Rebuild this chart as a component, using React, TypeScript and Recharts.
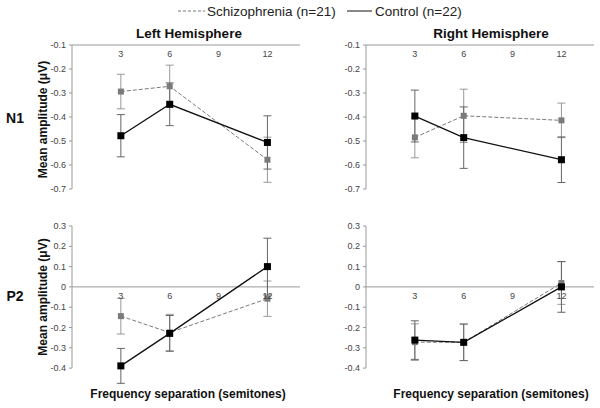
import { LineChart, Line, XAxis, YAxis, ErrorBar, ReferenceLine, ReferenceDot } from "recharts";

const freqs = [3, 6, 12];
const xTicks = [3, 6, 9, 12];
const n1Ticks = [-0.7, -0.6, -0.5, -0.4, -0.3, -0.2, -0.1];
const p2Ticks = [-0.4, -0.3, -0.2, -0.1, 0, 0.1, 0.2, 0.3];

// N1, left hemisphere
const n1LeftSchiz = [-0.294, -0.272, -0.578];
const n1LeftSchizErr = [0.072, 0.088, 0.094];
const n1LeftCtrl = [-0.478, -0.347, -0.506];
const n1LeftCtrlErr = [0.088, 0.089, 0.111];
// N1, right hemisphere
const n1RightSchiz = [-0.485, -0.395, -0.414];
const n1RightSchizErr = [0.085, 0.111, 0.072];
const n1RightCtrl = [-0.396, -0.486, -0.578];
const n1RightCtrlErr = [0.108, 0.128, 0.095];
// P2, left hemisphere
const p2LeftSchiz = [-0.144, -0.225, -0.058];
const p2LeftSchizErr = [0.088, 0.09, 0.087];
const p2LeftCtrl = [-0.389, -0.229, 0.1];
const p2LeftCtrlErr = [0.086, 0.088, 0.14];
// P2, right hemisphere
const p2RightSchiz = [-0.272, -0.273, 0.019];
const p2RightSchizErr = [0.09, 0.09, 0.105];
const p2RightCtrl = [-0.262, -0.273, 0.0];
const p2RightCtrlErr = [0.095, 0.09, 0.125];

const font = '"Liberation Sans", Arial, sans-serif';

const square = (fill: string, size: number) => (props: any) => {
  const { cx, cy, index } = props;
  return <rect key={index} x={cx - size / 2} y={cy - size / 2} width={size} height={size} fill={fill} />;
};

type PanelProps = {
  left: number;
  top: number;
  height: number;
  schiz: number[];
  schizErr: number[];
  ctrl: number[];
  ctrlErr: number[];
  domain: [number, number];
  ticks: number[];
  axisAt: number;
  marginTop: number;
  marginBottom: number;
};

function Panel(p: PanelProps) {
  const data = freqs.map((f, i) => ({
    freq: f,
    schiz: p.schiz[i],
    schizErr: p.schizErr[i],
    ctrl: p.ctrl[i],
    ctrlErr: p.ctrlErr[i],
  }));
  const lo = p.ticks[0];
  const hi = p.ticks[p.ticks.length - 1];
  return (
    <div style={{ position: "absolute", left: p.left, top: p.top }}>
      <LineChart
        width={305}
        height={p.height}
        data={data}
        margin={{ top: p.marginTop, right: 5, bottom: p.marginBottom, left: 40 }}
      >
        <XAxis type="number" dataKey="freq" domain={[0, 14]} hide />
        <YAxis
          type="number"
          domain={p.domain}
          allowDataOverflow
          ticks={p.ticks}
          interval={0}
          width={32}
          tickSize={3}
          tickMargin={3}
          axisLine={false}
          tickLine={{ stroke: "#999" }}
          tick={{ fontSize: 9, fill: "#444", fontFamily: font }}
          tickFormatter={(v: number) => (v === 0 ? "0" : v.toFixed(1))}
        />
        <ReferenceLine segment={[{ x: 0, y: lo }, { x: 0, y: hi }]} stroke="#999" />
        <ReferenceLine y={p.axisAt} stroke="#999" />
        {xTicks.map((t) => (
          <ReferenceDot
            key={t}
            x={t}
            y={p.axisAt}
            r={0}
            stroke="none"
            label={{ value: String(t), position: "bottom", offset: 6, fontSize: 9, fill: "#444", fontFamily: font }}
          />
        ))}
        <Line
          dataKey="schiz"
          stroke="#7a7a7a"
          strokeWidth={1}
          strokeDasharray="4 2"
          dot={square("#7a7a7a", 6)}
          isAnimationActive={false}
        >
          <ErrorBar dataKey="schizErr" width={4} stroke="#999" strokeWidth={1} direction="y" />
        </Line>
        <Line
          dataKey="ctrl"
          stroke="#111"
          strokeWidth={1.3}
          dot={square("#000", 7)}
          isAnimationActive={false}
        >
          <ErrorBar dataKey="ctrlErr" width={4} stroke="#666" strokeWidth={1} direction="y" />
        </Line>
      </LineChart>
    </div>
  );
}

export default function App() {
  return (
    <div style={{ position: "absolute", left: 0, top: 0, width: 600, height: 408, background: "#fff", fontFamily: font }}>
      <Panel left={0} top={40} height={160} schiz={n1LeftSchiz} schizErr={n1LeftSchizErr} ctrl={n1LeftCtrl} ctrlErr={n1LeftCtrlErr}
        domain={[-0.7, -0.1]} ticks={n1Ticks} axisAt={-0.1} marginTop={5} marginBottom={11} />
      <Panel left={294} top={40} height={160} schiz={n1RightSchiz} schizErr={n1RightSchizErr} ctrl={n1RightCtrl} ctrlErr={n1RightCtrlErr}
        domain={[-0.7, -0.1]} ticks={n1Ticks} axisAt={-0.1} marginTop={5} marginBottom={11} />
      <Panel left={0} top={220} height={176} schiz={p2LeftSchiz} schizErr={p2LeftSchizErr} ctrl={p2LeftCtrl} ctrlErr={p2LeftCtrlErr}
        domain={[-0.5, 0.3]} ticks={p2Ticks} axisAt={0} marginTop={6} marginBottom={7.6} />
      <Panel left={294} top={220} height={176} schiz={p2RightSchiz} schizErr={p2RightSchizErr} ctrl={p2RightCtrl} ctrlErr={p2RightCtrlErr}
        domain={[-0.5, 0.3]} ticks={p2Ticks} axisAt={0} marginTop={6} marginBottom={7.6} />
      <svg width={600} height={408} style={{ position: "absolute", left: 0, top: 0, pointerEvents: "none" }} fontFamily={font}>
        <line x1={178} x2={205} y1={11} y2={11} stroke="#777" strokeDasharray="3 2" />
        <text x={207} y={16} fontSize={13.5} fill="#222">Schizophrenia (n=21)</text>
        <line x1={347} x2={372} y1={11} y2={11} stroke="#111" />
        <text x={375} y={16} fontSize={13.5} fill="#222">Control (n=22)</text>
        <text x={189} y={38} fontSize={13.5} fontWeight="bold" textAnchor="middle" fill="#111">Left Hemisphere</text>
        <text x={491} y={38} fontSize={13.5} fontWeight="bold" textAnchor="middle" fill="#111">Right Hemisphere</text>
        <text x={15} y={123} fontSize={14} fontWeight="bold" textAnchor="middle" fill="#111">N1</text>
        <text x={15} y={301} fontSize={14} fontWeight="bold" textAnchor="middle" fill="#111">P2</text>
        <text transform="translate(47,119.5) rotate(-90)" fontSize={12} fontWeight="bold" textAnchor="middle" fill="#111">Mean amplitude (μV)</text>
        <text transform="translate(47,297) rotate(-90)" fontSize={12} fontWeight="bold" textAnchor="middle" fill="#111">Mean amplitude (μV)</text>
        <text x={188} y={398} fontSize={12} fontWeight="bold" textAnchor="middle" fill="#111">Frequency separation (semitones)</text>
        <text x={491} y={398} fontSize={12} fontWeight="bold" textAnchor="middle" fill="#111">Frequency separation (semitones)</text>
      </svg>
    </div>
  );
}
